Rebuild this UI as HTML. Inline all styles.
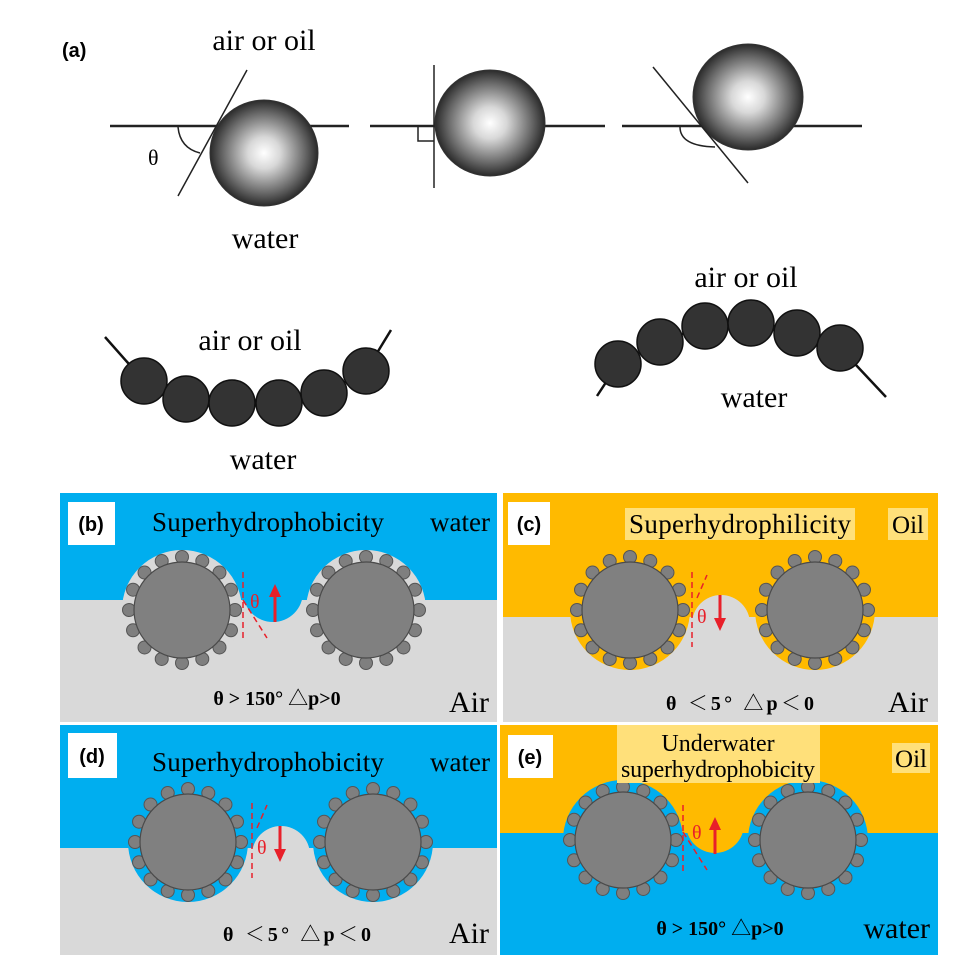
<!DOCTYPE html>
<html><head><meta charset="utf-8"><style>
html,body{margin:0;padding:0;background:#fff;}
svg{display:block;}
.s{font-family:"Liberation Serif","Noto Serif CJK SC",serif;}
.b{font-family:"Liberation Sans",sans-serif;font-weight:bold;}
</style></head><body>
<svg id="g" width="955" height="963" viewBox="0 0 955 963" xmlns="http://www.w3.org/2000/svg">
<defs>
<radialGradient id="sp" cx="0.5" cy="0.5" r="0.5">
<stop offset="0" stop-color="#fff"/><stop offset="0.3" stop-color="#d8d8d8"/><stop offset="0.75" stop-color="#6a6a6a"/><stop offset="1" stop-color="#2a2a2a"/>
</radialGradient>
<clipPath id="cb"><rect x="60" y="493" width="437" height="229"/></clipPath>
<clipPath id="cc"><rect x="503" y="493" width="435" height="229"/></clipPath>
<clipPath id="cd"><rect x="60" y="725" width="437" height="230"/></clipPath>
<clipPath id="ce"><rect x="500" y="725" width="438" height="230"/></clipPath>
</defs>
<!-- (a) -->
<text x="62" y="57" class="b" font-size="20">(a)</text>
<text x="264" y="50" class="s" font-size="30" text-anchor="middle">air or oil</text>
<line x1="110" y1="126" x2="349" y2="126" stroke="#222" stroke-width="2.5"/>
<ellipse cx="264" cy="153" rx="54" ry="53" fill="url(#sp)" stroke="#333"/>
<line x1="247" y1="70" x2="178" y2="196" stroke="#222" stroke-width="1.5"/>
<path d="M178 127 Q180 148 200 153" fill="none" stroke="#222" stroke-width="1.5"/>
<text x="148" y="165" class="s" font-size="22">θ</text>
<text x="265" y="248" class="s" font-size="30" text-anchor="middle">water</text>
<line x1="370" y1="126" x2="605" y2="126" stroke="#222" stroke-width="2.5"/>
<ellipse cx="490" cy="123" rx="55" ry="53" fill="url(#sp)" stroke="#333"/>
<line x1="434" y1="65" x2="434" y2="188" stroke="#222" stroke-width="1.5"/>
<path d="M418 127 L418 141 L434 141" fill="none" stroke="#222" stroke-width="1.5"/>
<line x1="622" y1="126" x2="862" y2="126" stroke="#222" stroke-width="2.5"/>
<ellipse cx="748" cy="97" rx="55" ry="53" fill="url(#sp)" stroke="#333"/>
<line x1="653" y1="67" x2="748" y2="183" stroke="#222" stroke-width="1.5"/>
<path d="M680 127 Q680 146 715 147" fill="none" stroke="#222" stroke-width="1.5"/>
<!-- chains -->
<path d="M105 337 L144 381 L186 399 L232 403 L279 403 L324 393 L366 371 L391 330" fill="none" stroke="#111" stroke-width="2.5"/>
<path d="M597 396 L618 364 L660 342 L705 326 L751 323 L797 333 L840 348 L886 397" fill="none" stroke="#111" stroke-width="2.5"/>
<g fill="#333" stroke="#111" stroke-width="1.5">
<circle cx="144" cy="381" r="23"/><circle cx="186" cy="399" r="23"/><circle cx="232" cy="403" r="23"/><circle cx="279" cy="403" r="23"/><circle cx="324" cy="393" r="23"/><circle cx="366" cy="371" r="23"/>
<circle cx="618" cy="364" r="23"/><circle cx="660" cy="342" r="23"/><circle cx="705" cy="326" r="23"/><circle cx="751" cy="323" r="23"/><circle cx="797" cy="333" r="23"/><circle cx="840" cy="348" r="23"/>
</g>
<text x="250" y="350" class="s" font-size="30" text-anchor="middle">air or oil</text>
<text x="263" y="469" class="s" font-size="30" text-anchor="middle">water</text>
<text x="746" y="287" class="s" font-size="30" text-anchor="middle">air or oil</text>
<text x="754" y="407" class="s" font-size="30" text-anchor="middle">water</text>

<!-- (b) -->
<g clip-path="url(#cb)">
<rect x="60" y="493" width="437" height="229" fill="#D9D9D9"/>
<rect x="60" y="493" width="437" height="107" fill="#00AEEF"/>
<circle cx="182" cy="610" r="60" fill="#D9D9D9"/><circle cx="366" cy="610" r="60" fill="#D9D9D9"/>
<circle cx="273" cy="592" r="30" fill="#00AEEF"/>
</g>
<!-- (c) -->
<g clip-path="url(#cc)">
<rect x="503" y="493" width="435" height="229" fill="#D9D9D9"/>
<rect x="503" y="493" width="435" height="124" fill="#FFBA00"/>
<circle cx="630" cy="610" r="60" fill="#FFBA00"/><circle cx="815" cy="610" r="60" fill="#FFBA00"/>
<circle cx="721" cy="624" r="29" fill="#D9D9D9"/>
<rect x="692" y="624" width="58" height="40" fill="#D9D9D9"/>
</g>
<!-- (d) -->
<g clip-path="url(#cd)">
<rect x="60" y="725" width="437" height="230" fill="#D9D9D9"/>
<rect x="60" y="725" width="437" height="123" fill="#00AEEF"/>
<circle cx="188" cy="842" r="60" fill="#00AEEF"/><circle cx="373" cy="842" r="60" fill="#00AEEF"/>
<circle cx="281" cy="855" r="29" fill="#D9D9D9"/>
<rect x="252" y="855" width="58" height="40" fill="#D9D9D9"/>
</g>
<!-- (e) -->
<g clip-path="url(#ce)">
<rect x="500" y="725" width="438" height="230" fill="#00AEEF"/>
<rect x="500" y="725" width="438" height="108" fill="#FFBA00"/>
<circle cx="623" cy="840" r="60" fill="#00AEEF"/><circle cx="808" cy="840" r="60" fill="#00AEEF"/>
<circle cx="715" cy="824" r="29" fill="#FFBA00"/>
</g>
<g id="parts"></g>
<!-- red markings -->
<g stroke="#E8202A" stroke-width="1.5" fill="none" stroke-dasharray="6,4">
<line x1="243" y1="572" x2="243" y2="640"/><line x1="243" y1="600" x2="267" y2="638"/>
<line x1="692" y1="572" x2="692" y2="647"/><line x1="697" y1="598" x2="707" y2="575"/>
<line x1="252" y1="803" x2="252" y2="878"/><line x1="257" y1="828" x2="267" y2="805"/>
<line x1="683" y1="805" x2="683" y2="873"/><line x1="683" y1="832" x2="707" y2="870"/>
</g>
<g fill="#E8202A" class="s" font-size="20">
<text x="250" y="608">θ</text><text x="697" y="623">θ</text><text x="257" y="854">θ</text><text x="692" y="839">θ</text>
</g>
<g stroke="#E8202A" stroke-width="3" fill="#E8202A">
<line x1="275" y1="622" x2="275" y2="595"/><path d="M269 597 L275 584 L281 597Z" stroke="none"/>
<line x1="720" y1="595" x2="720" y2="620"/><path d="M714 618 L720 631 L726 618Z" stroke="none"/>
<line x1="280" y1="826" x2="280" y2="851"/><path d="M274 849 L280 862 L286 849Z" stroke="none"/>
<line x1="715" y1="854" x2="715" y2="828"/><path d="M709 830 L715 817 L721 830Z" stroke="none"/>
</g>
<!-- labels -->
<rect x="68" y="502" width="47" height="43" fill="#fff"/><text x="91" y="531" class="b" font-size="20" text-anchor="middle">(b)</text>
<rect x="508" y="502" width="42" height="43" fill="#fff"/><text x="529" y="531" class="b" font-size="20" text-anchor="middle">(c)</text>
<rect x="68" y="733" width="49" height="45" fill="#fff"/><text x="92" y="763" class="b" font-size="20" text-anchor="middle">(d)</text>
<rect x="508" y="735" width="45" height="43" fill="#fff"/><text x="530" y="764" class="b" font-size="20" text-anchor="middle">(e)</text>
<g class="s" font-size="27">
<text x="268" y="531" text-anchor="middle" textLength="232">Superhydrophobicity</text>
<text x="490" y="531" text-anchor="end">water</text>
<rect x="625" y="508" width="230" height="32" fill="#FFE07A"/>
<text x="740" y="533" text-anchor="middle" textLength="222">Superhydrophilicity</text>
<rect x="888" y="508" width="40" height="32" fill="#FFE07A"/>
<text x="908" y="533" text-anchor="middle" font-size="25">Oil</text>
<text x="268" y="771" text-anchor="middle" textLength="232">Superhydrophobicity</text>
<text x="490" y="771" text-anchor="end">water</text>
<rect x="617" y="725" width="203" height="58" fill="#FFE07A"/>
<text x="718" y="751" text-anchor="middle" font-size="24">Underwater</text>
<text x="718" y="777" text-anchor="middle" font-size="24" textLength="194">superhydrophobicity</text>
<rect x="892" y="743" width="38" height="30" fill="#FFE07A"/>
<text x="911" y="767" text-anchor="middle" font-size="25">Oil</text>
<text x="489" y="712" text-anchor="end" font-size="30">Air</text>
<text x="928" y="712" text-anchor="end" font-size="30">Air</text>
<text x="489" y="943" text-anchor="end" font-size="30">Air</text>
<text x="930" y="938" text-anchor="end" font-size="30">water</text>
</g>
<g class="s" font-size="20" font-weight="bold" text-anchor="middle">
<text x="277" y="705">θ &gt; 150°   △p&gt;0</text>
<text x="740" y="710" textLength="148">θ ＜5° △p＜0</text>
<text x="297" y="941" textLength="148">θ ＜5° △p＜0</text>
<text x="720" y="935">θ &gt; 150°   △p&gt;0</text>
</g>
</svg>
<script>
var ns="http://www.w3.org/2000/svg",g=document.getElementById("parts");
var P=[[182,610],[366,610],[630,610],[815,610],[188,842],[373,842],[623,840],[808,840]];
P.forEach(function(p){
 for(var i=0;i<16;i++){var a=i*Math.PI/8;var c=document.createElementNS(ns,"circle");
 c.setAttribute("cx",p[0]+53*Math.cos(a));c.setAttribute("cy",p[1]+53*Math.sin(a));c.setAttribute("r",6.5);
 c.setAttribute("fill","#7f7f7f");c.setAttribute("stroke","#555");g.appendChild(c);}
 var c=document.createElementNS(ns,"circle");c.setAttribute("cx",p[0]);c.setAttribute("cy",p[1]);c.setAttribute("r",48);
 c.setAttribute("fill","#808080");c.setAttribute("stroke","#4a4a4a");c.setAttribute("stroke-width","1.2");g.appendChild(c);
});
</script>
</body></html>
